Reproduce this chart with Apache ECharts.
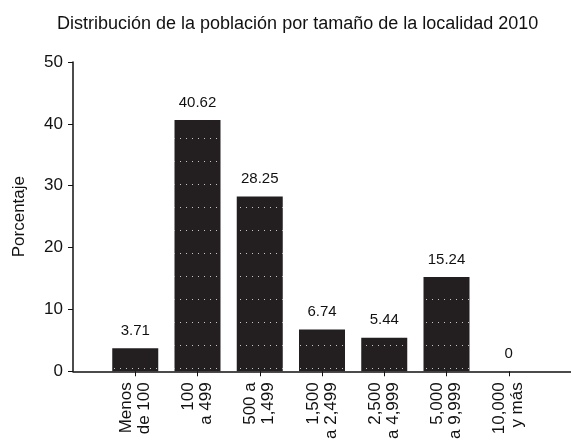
<!DOCTYPE html>
<html>
<head>
<meta charset="utf-8">
<script src="https://cdn.jsdelivr.net/npm/echarts@6/dist/echarts.min.js"></script>
<style>
    html, body { margin: 0; padding: 0; background: #fff; }
    #chart { width: 571px; height: 442px; }
</style>
</head>
<body>
<div id="chart"></div>
<script>
    // categorias (tamaño de localidad) y porcentajes
    const categories = ['Menos\nde 100', '100\na 499', '500 a\n1,499', '1,500\na 2,499', '2,500\na 4,999', '5,000\na 9,999', '10,000\ny más'];
    const porcentajes = [3.71, 40.62, 28.25, 6.74, 5.44, 15.24, 0];
    const yMin = 0, yMax = 50, yStep = 10;

    // hueco vacío a cada lado para que el eje x arranque en el eje y
    const xData = [''].concat(categories, ['']);
    const seriesData = ['-'].concat(porcentajes, ['-']);
    const last = xData.length - 1;

    const font = 'Liberation Sans, Arial, sans-serif';
    let mChart = echarts.init(document.getElementById('chart'));
    let option = {
        animation: false,
        aria: { enabled: false, decal: { show: true } },
        title: {
            text: 'Distribución de la población por tamaño de la localidad 2010',
            left: 52,
            top: 10,
            textStyle: { color: '#111', fontSize: 18, fontWeight: 'normal', fontFamily: font }
        },
        grid: { left: 73, right: -3, top: 62, bottom: 68 },
        xAxis: {
            type: 'category',
            data: xData,
            boundaryGap: false,
            axisLine: { lineStyle: { color: '#111', width: 1.5 } },
            axisTick: {
                length: 5,
                interval: function (i) { return i > 0 && i < last; },
                lineStyle: { color: '#111' }
            },
            axisLabel: {
                interval: 0,
                rotate: 90,
                margin: 11,
                color: '#111',
                fontSize: 17,
                lineHeight: 18,
                fontFamily: font
            }
        },
        yAxis: {
            type: 'value',
            min: yMin,
            max: yMax,
            interval: yStep,
            name: 'Porcentaje',
            nameLocation: 'middle',
            nameGap: 45,
            nameTextStyle: { color: '#111', fontSize: 17, fontFamily: font },
            splitLine: { show: false },
            axisLine: { show: true, lineStyle: { color: '#111', width: 1.5 } },
            axisTick: { show: true, length: 5, lineStyle: { color: '#111' } },
            axisLabel: { color: '#111', fontSize: 17, margin: 10, fontFamily: font }
        },
        series: [{
            type: 'bar',
            data: seriesData,
            barWidth: 46,
            itemStyle: {
                color: '#231f20',
                borderWidth: 0,
                // puntitos blancos como en la trama original
                decal: {
                    symbol: 'rect',
                    symbolSize: 1,
                    color: 'rgba(255,255,255,0.75)',
                    dashArrayX: [1, 5],
                    dashArrayY: [1, 22],
                    rotation: 0
                }
            },
            label: {
                show: true,
                position: 'top',
                distance: 10,
                color: '#111',
                fontSize: 15,
                fontFamily: font
            }
        }]
    };
    mChart.setOption(option);
</script>
</body>
</html>
